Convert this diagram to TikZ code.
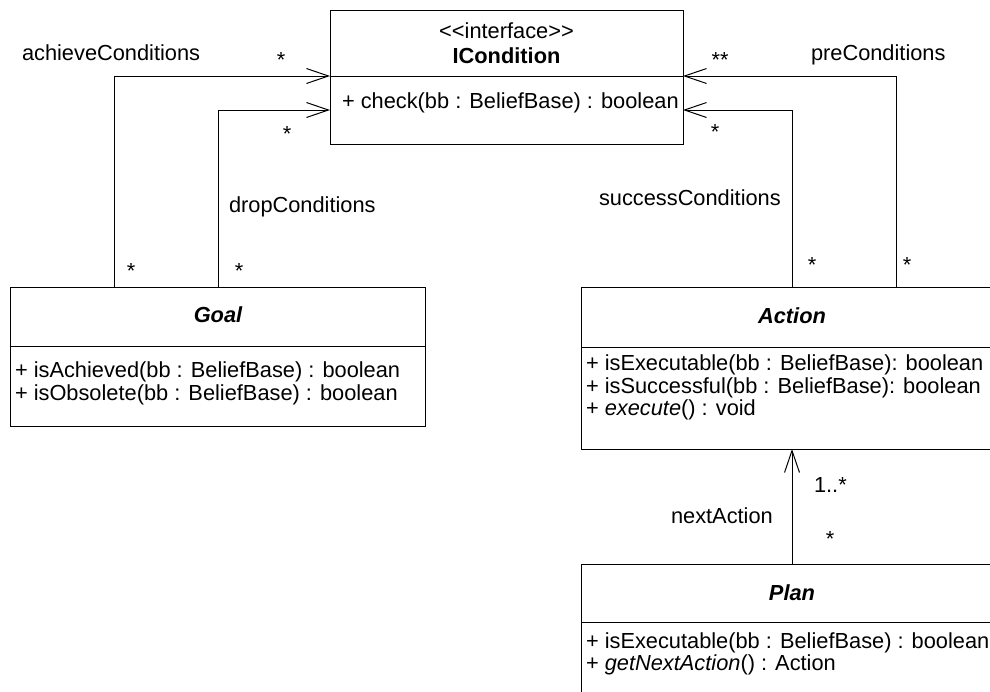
\documentclass[tikz,border=0pt]{standalone}
\usepackage{fontspec}
\setmainfont{Liberation Sans}
\usetikzlibrary{arrows.meta,calc}
\begin{document}
\begin{tikzpicture}[x=1pt,y=-1pt,
  every node/.style={font=\fontsize{21.8}{24}\selectfont, inner sep=0pt, outer sep=0pt},
  classbox/.style={draw, line width=1pt, anchor=north west, inner sep=0pt},
  lbl/.style={anchor=base west},
  mult/.style={anchor=base},
  title/.style={anchor=base, font=\fontsize{21.8}{24}\selectfont\bfseries\itshape},
  assoc/.style={draw, line width=1pt, -{Straight Barb[length=22pt,width=15pt,line width=1pt]}},
]
\useasboundingbox (0,0) rectangle (990,691);
\clip (0,0) rectangle (990,691);

% ---- ICondition interface ----
\node[classbox, minimum width=353pt, minimum height=66pt] (ichead) at (330,10) {};
\node[classbox, minimum width=353pt, minimum height=68pt] (icbody) at (330,76) {};
\node[anchor=base] (icstereo) at (506.5,38) {{<}{<}interface{>}{>}};
\node[anchor=base, font=\fontsize{21.8}{24}\selectfont\bfseries] (icname) at (506.5,63) {ICondition};
\node[lbl] (icm1) at (342,108) {+ check(bb : BeliefBase) : boolean};

% ---- Goal ----
\node[classbox, minimum width=415pt, minimum height=59pt] (goalhead) at (10,287) {};
\node[classbox, minimum width=415pt, minimum height=80pt] (goalbody) at (10,346) {};
\node[title] (goalname) at (218,322) {Goal};
\node[lbl] (goalm1) at (15,377) {+ isAchieved(bb : BeliefBase) : boolean};
\node[lbl] (goalm2) at (15,400) {+ isObsolete(bb : BeliefBase) : boolean};

% ---- Action ----
\node[classbox, minimum width=422pt, minimum height=60pt] (acthead) at (581,287) {};
\node[classbox, minimum width=422pt, minimum height=102pt] (actbody) at (581,347) {};
\node[title] (actname) at (792,323) {Action};
\node[lbl] (actm1) at (586,370) {+ isExecutable(bb : BeliefBase): boolean};
\node[lbl] (actm2) at (586,393) {+ isSuccessful(bb : BeliefBase): boolean};
\node[lbl] (actm3) at (586,415) {+ \textit{execute}() : void};

% ---- Plan ----
\node[classbox, minimum width=422pt, minimum height=58pt] (planhead) at (581,564) {};
\node[classbox, minimum width=422pt, minimum height=100pt] (planbody) at (581,622) {};
\node[title] (planname) at (792,600) {Plan};
\node[lbl] (planm1) at (586,648) {+ isExecutable(bb : BeliefBase) : boolean};
\node[lbl] (planm2) at (586,670) {+ \textit{getNextAction}() : Action};

% ---- associations ----
\draw[assoc] ($(goalhead.north west)+(104,0)$) |- (icbody.north west);
\draw[assoc] ($(goalhead.north west)+(208,0)$) |- ($(icbody.north west)+(0,34)$);
\draw[assoc] ($(acthead.north west)+(315,0)$) |- (icbody.north east);
\draw[assoc] ($(acthead.north west)+(211,0)$) |- ($(icbody.north east)+(0,34)$);
\draw[assoc] (planhead.north) -- (actbody.south);

% ---- role names and multiplicities ----
\node[lbl] (achieve) at (22,60) {achieveConditions};
\node[mult] (achievetgt) at (281,67) {*};
\node[mult] (achievesrc) at (131,278) {*};
\node[lbl] (drop) at (229,212) {dropConditions};
\node[mult] (droptgt) at (287,141) {*};
\node[mult] (dropsrc) at (239,278) {*};
\node[lbl] (pre) at (811,60) {preConditions};
\node[mult] (pretgt) at (720,67) {**};
\node[mult] (presrc) at (907,272) {*};
\node[lbl] (success) at (599,205) {successConditions};
\node[mult] (successtgt) at (715,139) {*};
\node[mult] (successsrc) at (812,272) {*};
\node[lbl] (next) at (671,523) {nextAction};
\node[lbl] (nexttgt) at (814,492) {1..*};
\node[mult] (nextsrc) at (830,546) {*};
\end{tikzpicture}
\end{document}
